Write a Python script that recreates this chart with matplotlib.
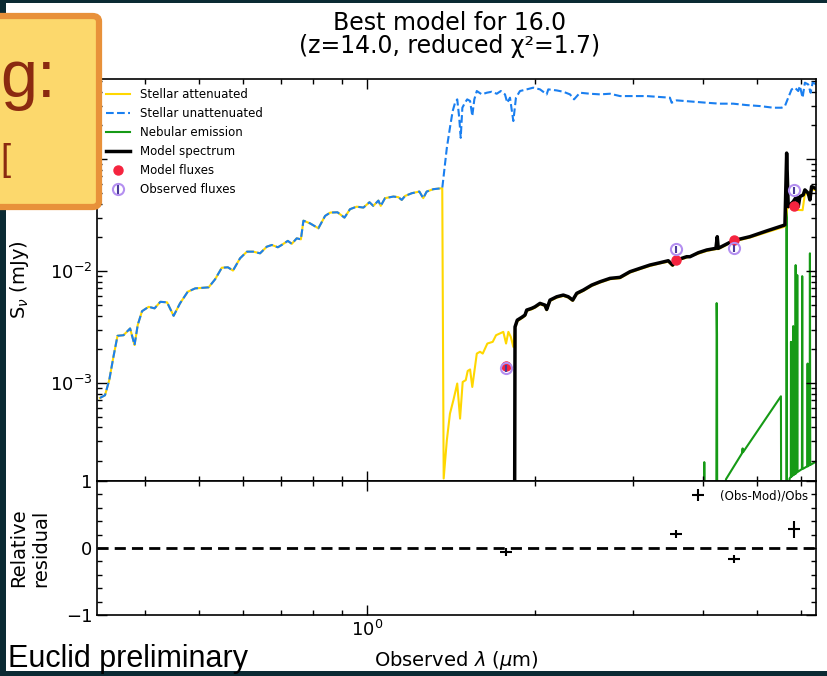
import matplotlib.pyplot as plt
from matplotlib.patches import Rectangle, FancyBboxPatch
from matplotlib.ticker import MultipleLocator, NullFormatter, FixedLocator

# shared stellar part (attenuated == unattenuated) below the break
stel_wl = [0.332, 0.339, 0.345, 0.351, 0.357, 0.366, 0.376, 0.383, 0.388, 0.395,
           0.406, 0.416, 0.426, 0.438, 0.450, 0.462, 0.477, 0.492, 0.520, 0.534,
           0.549, 0.563, 0.575, 0.592, 0.609, 0.625, 0.643, 0.661, 0.675, 0.692,
           0.703, 0.721, 0.733, 0.748, 0.761, 0.769, 0.790, 0.818, 0.841, 0.859,
           0.885, 0.911, 0.932, 0.958, 0.985, 1.010, 1.026, 1.048, 1.058, 1.077,
           1.115, 1.138, 1.154, 1.170, 1.203, 1.241, 1.261, 1.279, 1.315, 1.364]
stel_flux = [7.34e-4, 7.76e-4, 1.06e-3, 1.71e-3, 2.64e-3, 2.67e-3, 3.07e-3, 2.18e-3, 3.29e-3, 4.38e-3,
             4.79e-3, 4.64e-3, 5.31e-3, 5.25e-3, 3.98e-3, 5.14e-3, 6.53e-3, 7.00e-3, 7.15e-3, 8.43e-3,
             1.07e-2, 1.08e-2, 1.01e-2, 1.30e-2, 1.49e-2, 1.49e-2, 1.44e-2, 1.65e-2, 1.71e-2, 1.63e-2,
             1.71e-2, 1.86e-2, 1.75e-2, 1.96e-2, 1.92e-2, 2.82e-2, 2.67e-2, 2.41e-2, 3.11e-2, 3.33e-2,
             3.35e-2, 3.00e-2, 3.57e-2, 3.76e-2, 3.69e-2, 4.12e-2, 3.82e-2, 4.26e-2, 3.82e-2, 4.48e-2,
             4.63e-2, 4.57e-2, 4.32e-2, 4.69e-2, 4.96e-2, 5.13e-2, 4.48e-2, 5.13e-2, 5.39e-2, 5.50e-2]

# unattenuated, above the break
unatt_wl = [1.390, 1.408, 1.424, 1.438, 1.451, 1.463, 1.472, 1.482, 1.498, 1.512,
            1.530, 1.544, 1.557, 1.573, 1.606, 1.639, 1.673, 1.708, 1.737, 1.767,
            1.784, 1.804, 1.829, 1.849, 1.880, 1.933, 1.986, 2.042, 2.099, 2.113,
            2.188, 2.248, 2.311, 2.350, 2.408, 2.510, 2.616, 2.726, 2.841, 3.001,
            3.172, 3.351, 3.491, 3.516, 3.589, 3.845, 4.063, 4.291, 4.533, 4.791,
            5.061, 5.347, 5.536, 5.612, 5.689, 5.770, 5.848, 5.929, 5.970, 6.036,
            6.094, 6.179, 6.240, 6.291, 6.397]
unatt_flux = [0.126, 0.191, 0.269, 0.319, 0.342, 0.234, 0.155, 0.288, 0.319, 0.342,
              0.331, 0.243, 0.342, 0.406, 0.379, 0.392, 0.400, 0.384, 0.406, 0.379,
              0.319, 0.354, 0.219, 0.354, 0.406, 0.420, 0.435, 0.420, 0.379, 0.420,
              0.411, 0.400, 0.379, 0.342, 0.392, 0.384, 0.379, 0.384, 0.366, 0.366,
              0.366, 0.359, 0.354, 0.319, 0.335, 0.326, 0.319, 0.313, 0.313, 0.304,
              0.298, 0.288, 0.288, 0.298, 0.354, 0.420, 0.435, 0.406, 0.450, 0.354,
              0.482, 0.465, 0.392, 0.482, 0.465]

# attenuated, above the break
att_wl = [1.372, 1.390, 1.408, 1.428, 1.451, 1.468, 1.484, 1.503, 1.515, 1.530,
          1.544, 1.573, 1.594, 1.612, 1.643, 1.680, 1.703, 1.731, 1.755, 1.775,
          1.792, 1.810, 1.829, 1.842, 1.859, 1.893, 1.919, 1.933, 1.973, 2.000,
          2.042, 2.084, 2.099, 2.128, 2.188, 2.248, 2.295, 2.337, 2.376, 2.442,
          2.528, 2.616, 2.726, 2.841, 2.960, 3.085, 3.215, 3.351, 3.467, 3.530,
          3.589, 3.741, 3.925, 4.063, 4.221, 4.262, 4.533, 4.857, 5.203, 5.612,
          5.660, 5.689, 5.808, 5.889, 6.036, 6.094, 6.179, 6.265, 6.353]
att_flux = [1.40e-4, 3.07e-4, 5.32e-4, 7.00e-4, 9.88e-4, 4.80e-4, 1.02e-3, 1.06e-3, 1.28e-3, 1.32e-3,
            9.21e-4, 1.83e-3, 1.90e-3, 1.83e-3, 2.25e-3, 2.33e-3, 2.67e-3, 2.77e-3, 2.86e-3, 2.25e-3,
            2.86e-3, 2.58e-3, 2.10e-3, 3.10e-3, 3.55e-3, 3.78e-3, 3.96e-3, 4.40e-3, 4.55e-3, 4.70e-3,
            5.05e-3, 4.87e-3, 4.46e-3, 5.40e-3, 5.78e-3, 5.99e-3, 5.78e-3, 5.40e-3, 6.20e-3, 6.64e-3,
            7.36e-3, 7.88e-3, 8.45e-3, 8.62e-3, 9.68e-3, 1.04e-2, 1.11e-2, 1.17e-2, 1.21e-2, 1.11e-2,
            1.23e-2, 1.32e-2, 1.43e-2, 1.51e-2, 1.57e-2, 1.57e-2, 1.83e-2, 1.99e-2, 2.22e-2, 2.50e-2,
            3.60e-2, 3.70e-2, 4.05e-2, 3.52e-2, 3.50e-2, 4.90e-2, 4.80e-2, 5.40e-2, 5.30e-2]

# nebular emission
neb_wl = [3.950, 4.015, 4.023, 4.030, 4.225, 4.234, 4.240, 4.245, 4.400, 4.700,
          4.713, 4.720, 5.520, 5.530, 5.645, 5.652, 5.660, 5.720, 5.750, 5.754,
          5.760, 5.800, 5.808, 5.815, 5.860, 5.866, 5.872, 5.900, 5.905, 5.910,
          6.020, 6.027, 6.034, 6.155, 6.163, 6.170, 6.215, 6.222, 6.230, 6.400]
neb_flux = [1e-5, 1e-5, 1.96e-4, 1e-5, 1e-5, 5.17e-3, 2.70e-3, 1e-5, 1.38e-4, 2.35e-4,
            2.60e-4, 2.40e-4, 7.60e-4, 1e-5, 1e-5, 8.8e-2, 1e-5, 1.40e-4, 1.45e-4, 2.33e-3,
            1.45e-4, 1.50e-4, 3.22e-3, 1.50e-4, 1.55e-4, 1.13e-2, 1.55e-4, 1.60e-4, 9.20e-3, 1.60e-4,
            1.70e-4, 9.00e-3, 1.70e-4, 1.80e-4, 1.49e-3, 1.80e-4, 1.85e-4, 1.44e-2, 1.85e-4, 2.00e-4]

# total model spectrum
model_wl = [1.837, 1.842, 1.859, 1.893, 1.919, 1.933, 1.973, 2.000, 2.042, 2.084,
            2.099, 2.128, 2.188, 2.248, 2.295, 2.337, 2.376, 2.442, 2.528, 2.616,
            2.726, 2.841, 2.960, 3.085, 3.215, 3.351, 3.467, 3.530, 3.589, 3.741,
            3.793, 3.925, 4.063, 4.221, 4.244, 4.262, 4.533, 4.857, 5.203, 5.612,
            5.652, 5.689, 5.808, 5.889, 5.929, 5.970, 6.052, 6.094, 6.179, 6.222,
            6.265, 6.353]
model_flux = [1e-5, 3.17e-3, 3.64e-3, 3.85e-3, 4.04e-3, 4.48e-3, 4.64e-3, 4.79e-3, 5.14e-3, 4.96e-3,
              4.54e-3, 5.50e-3, 5.89e-3, 6.10e-3, 5.89e-3, 5.50e-3, 6.32e-3, 6.76e-3, 7.49e-3, 8.02e-3,
              8.60e-3, 8.78e-3, 9.86e-3, 1.057e-2, 1.132e-2, 1.187e-2, 1.236e-2, 1.132e-2, 1.254e-2, 1.343e-2,
              1.343e-2, 1.458e-2, 1.542e-2, 1.596e-2, 2.028e-2, 1.596e-2, 1.868e-2, 2.028e-2, 2.281e-2, 2.581e-2,
              0.1132, 3.764e-2, 4.173e-2, 4.627e-2, 3.764e-2, 4.627e-2, 4.79e-2, 5.31e-2, 4.96e-2, 4.32e-2,
              5.68e-2, 5.50e-2]

# photometry
filt_wl = [1.775, 3.58, 4.55, 5.82]
obs_flux = [1.35e-3, 1.57e-2, 1.60e-2, 5.29e-2]
obs_err = [1.0e-4, 1.2e-3, 1.2e-3, 4.0e-3]
mod_flux = [1.42e-3, 1.25e-2, 1.89e-2, 3.80e-2]
resid = [-0.06, 0.21, -0.16, 0.28]
resid_err = [0.06, 0.06, 0.06, 0.13]

W, H = 827, 676
fig = plt.figure(figsize=(W / 100, H / 100), dpi=100, facecolor='#0b2a33')
fig.patches.append(Rectangle((6 / W, 5 / H), 1, 668 / H, transform=fig.transFigure,
                             facecolor='white', edgecolor='none', zorder=-5))

ax1 = fig.add_axes([97 / W, 195 / H, 719 / W, 402 / H])
ax2 = fig.add_axes([97 / W, 61 / H, 719 / W, 134 / H], sharex=ax1)

ax1.plot(stel_wl + att_wl, stel_flux + att_flux, color='gold', lw=1.5, label='Stellar attenuated', zorder=2)
ax1.plot(stel_wl + unatt_wl, stel_flux + unatt_flux, color='#1a7ff0', lw=1.5, ls='--',
         label='Stellar unattenuated', zorder=2)
ax1.plot(neb_wl, neb_flux, color='#169a16', lw=1.5, label='Nebular emission', zorder=1)
ax1.plot(model_wl, model_flux, color='k', lw=2.5, label='Model spectrum', zorder=3)
ax1.plot(filt_wl, mod_flux, 'o', color='#f5243f', ms=6.5, label='Model fluxes', zorder=4)
ax1.errorbar(filt_wl, obs_flux, yerr=obs_err, fmt='o', mfc='none', mec='#b48ff0', mew=1.5, ms=8,
             ecolor='#4a3a9a', elinewidth=1.5, capsize=0, label='Observed fluxes', zorder=5)

ax1.set_xscale('log')
ax1.set_yscale('log')
ax1.set_xlim(0.328, 6.38)
ax1.set_ylim(1.33e-4, 0.52)
ax1.set_ylabel(r'S$_\nu$ (mJy)', fontsize=14)
ax1.yaxis.set_label_coords(-0.092, 0.5)
ax1.set_title('Best model for 16.0\n(z=14.0, reduced χ²=1.7)', fontsize=17, pad=19,
              linespacing=0.95, x=0.49)
ax1.legend(loc='upper left', frameon=False, fontsize=8.5, borderaxespad=0.4)
ax1.tick_params(axis='x', which='both', labelbottom=False)

ax2.axhline(0, color='k', lw=2, ls=(0, (4, 2.2)))
ax2.errorbar(filt_wl, resid, yerr=resid_err, fmt='_', color='k', ms=9, mew=1.5, elinewidth=1.5,
             capsize=0, label='(Obs-Mod)/Obs')
ax2.set_ylim(-1, 1)
ax2.yaxis.set_major_locator(FixedLocator([-1, 0, 1]))
ax2.yaxis.set_minor_locator(MultipleLocator(0.2))
ax2.xaxis.set_minor_formatter(NullFormatter())
ax2.set_ylabel('Relative\nresidual', fontsize=14)
ax2.yaxis.set_label_coords(-0.065, 0.5)
ax2.set_xlabel(r'Observed $\lambda$ ($\mu$m)', fontsize=14)
ax2.xaxis.set_label_coords(0.5, -0.255)
ax2.xaxis.label.set_va('top')
ax2.legend(loc='upper right', frameon=False, fontsize=8.5, borderaxespad=0.3)

for ax in (ax1, ax2):
    ax.tick_params(which='both', direction='in', top=True, right=True, labelsize=13)
    ax.tick_params(which='major', length=7, width=1)
    ax.tick_params(which='minor', length=3.5, width=1)
    for sp in ax.spines.values():
        sp.set_linewidth(1.2)

fig.text(8 / W, 9 / H, 'Euclid preliminary', fontsize=22, family='Liberation Sans',
         va='baseline', ha='left', color='black')

# slide overlay box in the top-left corner
box = FancyBboxPatch((-12 / W, 469 / H), 111 / W, 191 / H, boxstyle='round,pad=0,rounding_size=0.008',
                     transform=fig.transFigure, facecolor='#fcd86c', edgecolor='#e8913a',
                     linewidth=4.5, zorder=10)
fig.patches.append(box)
fig.text(0, (H - 97) / H, 'g:', fontsize=48, family='Liberation Sans', color='#8b2a10',
         va='baseline', ha='left', zorder=11)
fig.text(0, (H - 170) / H, '[', fontsize=26, family='Liberation Sans', color='#8b2a10',
         va='baseline', ha='left', zorder=11)

fig.savefig('out.png', dpi=100, facecolor=fig.get_facecolor())
